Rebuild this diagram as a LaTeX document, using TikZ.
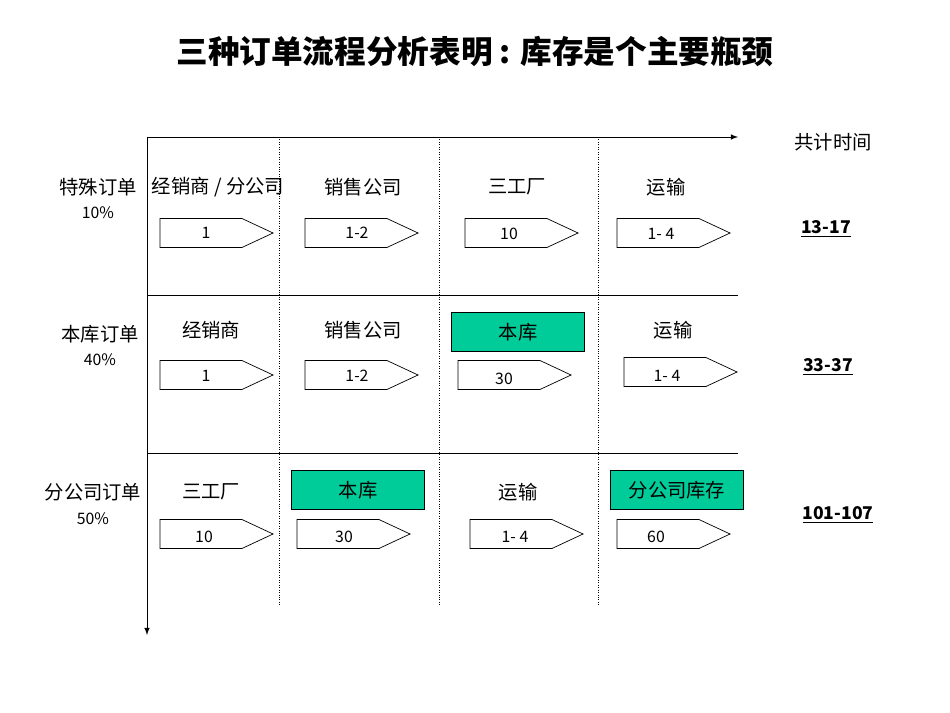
\documentclass[tikz,border=0pt]{standalone}
\usepackage{fontspec}
\setmainfont{Noto Sans CJK SC}
\usetikzlibrary{shapes.symbols}
\definecolor{stockgreen}{HTML}{00CC99}
\tikzset{
  tagbox/.style={signal, signal to=east, signal pointer angle=50, draw, fill=white,
    minimum width=2.26cm, minimum height=0.58cm, inner sep=0pt, xshift=-0.3cm},
  tagtext/.style={font=\fontsize{9}{10}\selectfont},
  head/.style={font=\fontsize{11}{12}\selectfont},
  stockbox/.style={draw, fill=stockgreen, minimum width=2.66cm, minimum height=0.78cm,
    font=\fontsize{11}{12}\selectfont},
  total/.style={font=\bfseries\fontsize{10}{12}\selectfont}
}
\begin{document}
\begin{tikzpicture}[x=0.02cm, y=-0.02cm]
    \useasboundingbox (0,0) rectangle (950,713);

    % Title
    \node[font=\bfseries\fontsize{18}{20}\selectfont] (title) at (475,52) {三种订单流程分析表明 : 库存是个主要瓶颈};

    % Axes
    \coordinate (o) at (147,137);
    \coordinate (xend) at (738,137);
    \coordinate (yend) at (147,635);
    \draw[-latex] (o) -- (xend);
    \draw[-latex] (o) -- (yend);
    \node[head] (sum) at (833,142) {共计时间};

    % Grid
    \foreach \x in {279,439,598}
        \draw[densely dotted] (\x,137) -- (\x,605);
    \foreach \y in {295,453}
        \draw (147,\y) -- (738,\y);

    % Row labels
    \node[head] (r1) at (98,187) {特殊订单};
    \node[tagtext] (r1p) at (98,213) {10\%};
    \node[head] (r2) at (100,334) {本库订单};
    \node[tagtext] (r2p) at (100,360) {40\%};
    \node[head] (r3) at (93,492) {分公司订单};
    \node[tagtext] (r3p) at (93,519) {50\%};

    % Row 1
    \node[head] (h11) at (218,187) {经销商 / 分公司};
    \node[head] (h12) at (363,187) {销售公司};
    \node[head] (h13) at (517,187) {三工厂};
    \node[head] (h14) at (666,187) {运输};
    \node[tagbox] (a11) at (216,233) {};
    \node[tagbox] (a12) at (361,233) {};
    \node[tagbox] (a13) at (521,233) {};
    \node[tagbox] (a14) at (673,233) {};
    \node[tagtext] at (206,233) {1};
    \node[tagtext] at (357,233) {1-2};
    \node[tagtext] at (509,234) {10};
    \node[tagtext] at (661,234) {1- 4};
    \node[total] (t1) at (826,229) {\underline{13-17}};

    % Row 2
    \node[head] (h21) at (211,330) {经销商};
    \node[head] (h22) at (363,330) {销售公司};
    \node[stockbox] (h23) at (518,332) {本库};
    \node[head] (h24) at (673,330) {运输};
    \node[tagbox] (a21) at (216,375) {};
    \node[tagbox] (a22) at (361,375) {};
    \node[tagbox] (a23) at (514,375) {};
    \node[tagbox] (a24) at (680,372) {};
    \node[tagtext] at (206,376) {1};
    \node[tagtext] at (357,376) {1-2};
    \node[tagtext] at (504,379) {30};
    \node[tagtext] at (667,376) {1- 4};
    \node[total] (t2) at (828,367) {\underline{33-37}};

    % Row 3
    \node[head] (h31) at (211,492) {三工厂};
    \node[stockbox] (h32) at (358,490) {本库};
    \node[head] (h33) at (518,492) {运输};
    \node[stockbox] (h34) at (677,490) {分公司库存};
    \node[tagbox] (a31) at (216,534) {};
    \node[tagbox] (a32) at (353,534) {};
    \node[tagbox] (a33) at (526,534) {};
    \node[tagbox] (a34) at (673,534) {};
    \node[tagtext] at (204,537) {10};
    \node[tagtext] at (344,537) {30};
    \node[tagtext] at (515,537) {1- 4};
    \node[tagtext] at (656,537) {60};
    \node[total] (t3) at (838,515) {\underline{101-107}};
\end{tikzpicture}
\end{document}
